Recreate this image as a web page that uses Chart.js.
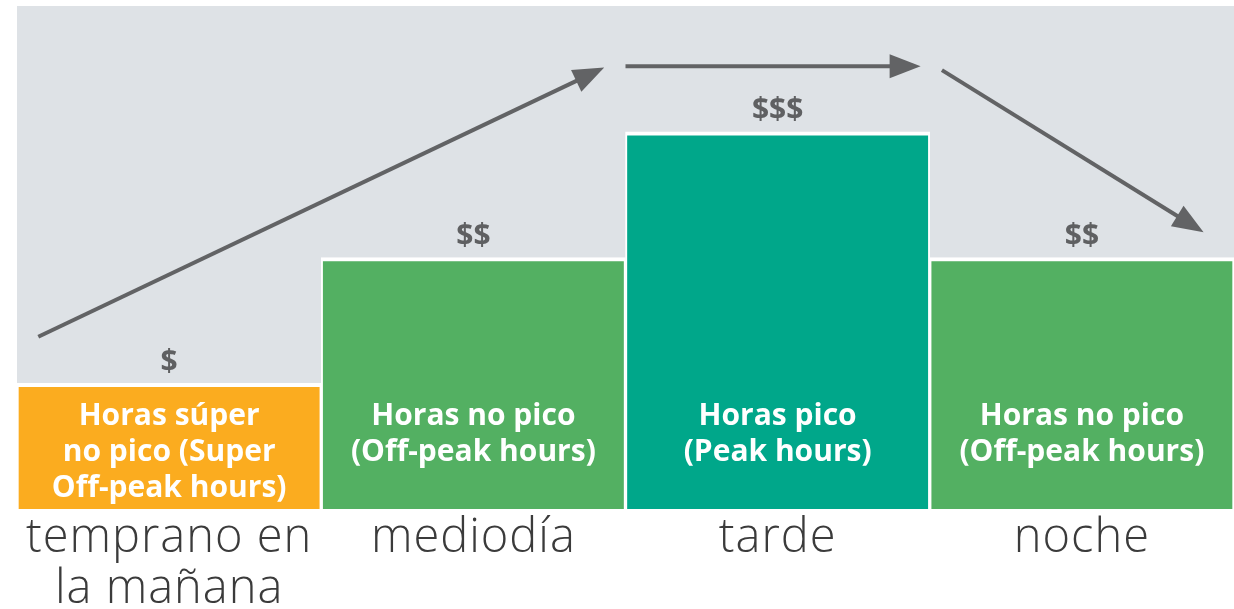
<!DOCTYPE html>
<html><head><meta charset="utf-8">
<script src="https://cdn.jsdelivr.net/npm/chart.js@4/dist/chart.umd.min.js"></script>
<style>html,body{margin:0;padding:0;background:#fff;overflow:hidden}</style>
</head><body>
<canvas id="c" width="1234" height="609"></canvas>
<script>
// ---- data ----
const categories = [["temprano en", "la mañana"], "mediodía", "tarde", "noche"];
const priceLevels = [1, 2, 3, 2];
const priceLabels = ["$", "$$", "$$$", "$$"];
const barLabels = [
  ["Horas súper", "no pico (Super", "Off-peak hours)"],
  ["Horas no pico", "(Off-peak hours)"],
  ["Horas pico", "(Peak hours)"],
  ["Horas no pico", "(Off-peak hours)"]
];
const barColors = ["#FBAC1F", "#53B062", "#00A78A", "#53B062"];
const yMax = 4;
// trend arrows in data coordinates: x = category index, y = price level
const arrowFromX = [-0.43, 1.50, 2.54];
const arrowFromY = [1.37, 3.52, 3.49];
const arrowToX = [1.43, 2.47, 3.40];
const arrowToY = [3.51, 3.52, 2.20];

const GRAY_BG = "#DEE2E6";
const ARROW = "#626365";
const DARK = "#3B3B3B";

const overlay = {
  id: "overlay",
  beforeDraw(chart) {
    const {ctx, chartArea: a} = chart;
    ctx.save();
    ctx.fillStyle = GRAY_BG;
    ctx.fillRect(a.left, a.top, a.right - a.left, a.bottom - a.top);
    ctx.restore();
  },
  afterDatasetsDraw(chart) {
    const {ctx, chartArea: a} = chart;
    const xs = chart.scales.x, ys = chart.scales.y;
    ctx.save();
    ctx.textAlign = "center";
    // price labels
    ctx.fillStyle = "#5F6062";
    ctx.font = "bold 30px 'Open Sans'";
    ctx.textBaseline = "middle";
    priceLabels.forEach((t, i) => {
      ctx.fillText(t, xs.getPixelForValue(i), ys.getPixelForValue(priceLevels[i]) - 21);
    });
    // bar inner labels
    ctx.fillStyle = "#FFFFFF";
    ctx.font = "bold 30px 'Open Sans'";
    ctx.textBaseline = "alphabetic";
    barLabels.forEach((lines, i) => {
      lines.forEach((t, j) => {
        ctx.fillText(t, xs.getPixelForValue(i), a.bottom - 84 + j * 36);
      });
    });
    // category labels
    ctx.fillStyle = DARK;
    ctx.font = "300 47px 'Open Sans'";
    if ("letterSpacing" in ctx) ctx.letterSpacing = "1px";
    categories.forEach((c, i) => {
      const lines = Array.isArray(c) ? c : [c];
      lines.forEach((t, j) => {
        ctx.fillText(t, xs.getPixelForValue(i), a.bottom + 43 + j * 51);
      });
    });
    if ("letterSpacing" in ctx) ctx.letterSpacing = "0px";
    // arrows
    ctx.strokeStyle = ARROW;
    ctx.fillStyle = ARROW;
    ctx.lineWidth = 4;
    for (let k = 0; k < arrowFromX.length; k++) {
      const x0 = xs.getPixelForValue(arrowFromX[k]), y0 = ys.getPixelForValue(arrowFromY[k]);
      const x1 = xs.getPixelForValue(arrowToX[k]), y1 = ys.getPixelForValue(arrowToY[k]);
      const ang = Math.atan2(y1 - y0, x1 - x0);
      const hl = 31, hw = 12;
      const bx = x1 - hl * Math.cos(ang), by = y1 - hl * Math.sin(ang);
      ctx.beginPath();
      ctx.moveTo(x0, y0);
      ctx.lineTo(bx + 2 * Math.cos(ang), by + 2 * Math.sin(ang));
      ctx.stroke();
      ctx.beginPath();
      ctx.moveTo(x1, y1);
      ctx.lineTo(bx - hw * Math.sin(ang), by + hw * Math.cos(ang));
      ctx.lineTo(bx + hw * Math.sin(ang), by - hw * Math.cos(ang));
      ctx.closePath();
      ctx.fill();
    }
    ctx.restore();
  }
};

new Chart(document.getElementById("c"), {
  type: "bar",
  data: {
    labels: categories,
    datasets: [{
      data: priceLevels,
      backgroundColor: barColors,
      borderColor: "#FFFFFF",
      borderWidth: {top: 4, left: 2, right: 2, bottom: 0},
      borderSkipped: false,
      barPercentage: 1,
      categoryPercentage: 1
    }]
  },
  options: {
    responsive: false,
    animation: false,
    layout: {padding: {left: 17, right: 0, top: 6, bottom: 100}},
    plugins: {legend: {display: false}, tooltip: {enabled: false}},
    scales: {
      x: {display: false, offset: true},
      y: {display: false, min: 0, max: yMax}
    }
  },
  plugins: [overlay]
});
</script>
</body></html>
